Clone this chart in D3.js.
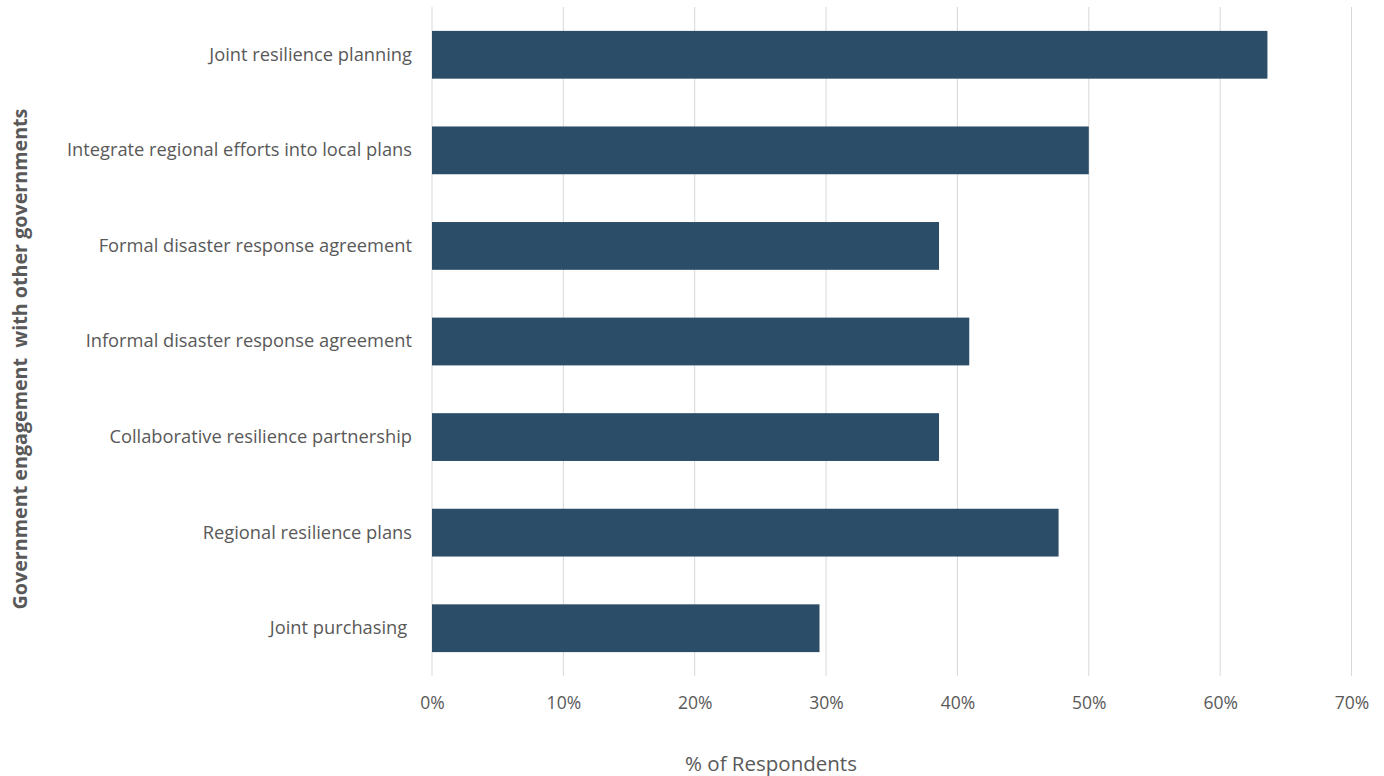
<!DOCTYPE html>
<html><head><meta charset="utf-8">
<script src="https://cdn.jsdelivr.net/npm/d3@7"></script>
<style>body{margin:0;background:#fff}svg{display:block}</style>
</head><body><svg id="c" width="1384" height="776"></svg>
<script>
const categories = ["Joint resilience planning","Integrate regional efforts into local plans","Formal disaster response agreement","Informal disaster response agreement","Collaborative resilience partnership","Regional resilience plans","Joint purchasing "];
const values = [0.636,0.500,0.386,0.409,0.386,0.477,0.295];
const xTicks = [0,0.1,0.2,0.3,0.4,0.5,0.6,0.7];
const xTitle = "% of Respondents";
const yTitle = "Government engagement  with other governments";

(function(){
const svg = d3.select("#c");
const font = "'Open Sans', sans-serif";
const pL = 432, pR = 1351.5, pT = 7, pB = 676;
const x = d3.scaleLinear().domain([0,0.7]).range([pL,pR]);
const y = d3.scaleBand().domain(categories).range([pT,pB]).paddingInner(0.5).paddingOuter(0.25);

svg.append("g").selectAll("line").data(xTicks).join("line")
  .attr("x1",d=>x(d)).attr("x2",d=>x(d)).attr("y1",pT).attr("y2",pB)
  .attr("stroke","#d9d9d9").attr("stroke-width",1);

svg.append("g").selectAll("rect").data(categories).join("rect")
  .attr("x",x(0)).attr("y",d=>y(d)).attr("height",y.bandwidth())
  .attr("width",(d,i)=>x(values[i])-x(0)).attr("fill","#2C4D68");

const xa = svg.append("g").attr("transform",`translate(0,${pB})`)
  .call(d3.axisBottom(x).tickValues(xTicks).tickFormat(d3.format(".0%")).tickSize(0).tickPadding(21));
xa.select(".domain").remove();
xa.selectAll("text").attr("font-family",font).attr("font-size",17.5).attr("fill","#595959");

const ya = svg.append("g").attr("transform",`translate(${pL},0)`)
  .call(d3.axisLeft(y).tickSize(0).tickPadding(20));
ya.select(".domain").remove();
ya.selectAll("text").attr("font-family",font).attr("font-size",18.3).attr("fill","#595959")
  .style("white-space","pre");

svg.append("text").attr("x",771).attr("y",771).attr("text-anchor","middle")
  .attr("font-family",font).attr("font-size",20.5).attr("fill","#595959").text(xTitle);

svg.append("text").attr("transform","translate(27,359) rotate(-90)").attr("text-anchor","middle")
  .attr("font-family",font).attr("font-size",19.7).attr("font-weight","bold").attr("fill","#595959")
  .style("white-space","pre").text(yTitle);
})();
</script></body></html>
